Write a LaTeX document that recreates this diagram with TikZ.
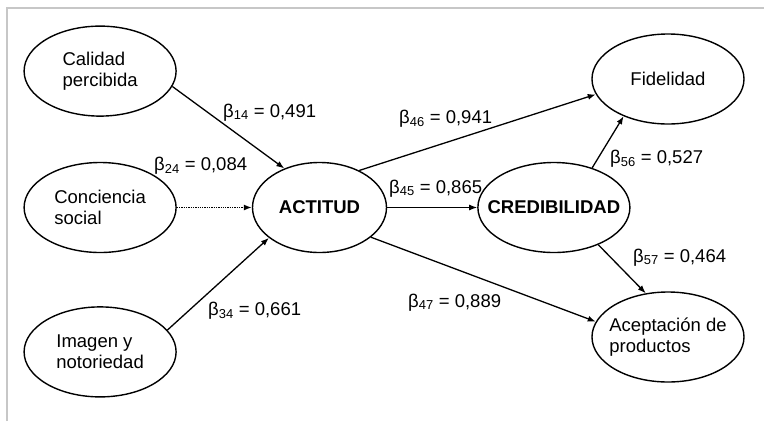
\documentclass[tikz,border=0pt]{standalone}
\usepackage{fontspec}
\setmainfont{Liberation Sans}
\usepackage{tikz}
\tikzstyle{factor} = [ellipse, draw, line width=1.4pt, inner sep=0pt,
    minimum width=152pt, minimum height=90pt, align=left,
    font=\fontsize{18.5}{21}\selectfont]
\tikzstyle{keyfactor} = [factor, font=\fontsize{18.5}{21}\selectfont\bfseries]
\tikzstyle{coef} = [anchor=base west, inner sep=0pt,
    font=\fontsize{18.5}{21}\selectfont]
\tikzstyle{path} = [line width=1.3pt, -{Latex[length=8pt,width=6pt]}]
\usetikzlibrary{arrows.meta}
\usetikzlibrary{positioning}
\usetikzlibrary{shapes.geometric}

\begin{document}
\begin{tikzpicture}[x=1pt,y=-1pt]
    \useasboundingbox (0,0) rectangle (764,421);
    \draw[line width=2pt, black!22] (7,421) -- (7,8) -- (764,8);

    \node[keyfactor, minimum width=134pt] (actitud) at (319.5,207.5) {ACTITUD};
    \node[factor, left=75pt of actitud] (conciencia) {Conciencia\\social};
    \node[factor, above=45pt of conciencia] (calidad) {Calidad\\percibida};
    \node[factor, below=53pt of conciencia] (imagen) {Imagen y\\notoriedad};

    \node[keyfactor, inner xsep=-16pt, right=90pt of actitud] (credibilidad) {CREDIBILIDAD};
    \node[factor] (fidelidad) at (668,79) {Fidelidad};
    \node[factor, inner xsep=-6pt] (aceptacion) at (668,337) {Aceptación de\\productos};

    \draw[path] (calidad.-12) -- (actitud.132);
    \draw[path, densely dotted] (conciencia) -- (actitud);
    \draw[path] (imagen.18) -- (actitud.211);
    \draw[path] (actitud.43) -- (fidelidad.192);
    \draw[path] (actitud) -- (credibilidad);
    \draw[path] (actitud.-30) -- (aceptacion.168);
    \draw[path] (credibilidad.46) -- (fidelidad.220);
    \draw[path] (credibilidad.-40) -- (aceptacion.117);

    \node[coef] (b14) at (223,117) {β\textsubscript{14} = 0,491};
    \node[coef] (b24) at (154,170) {β\textsubscript{24} = 0,084};
    \node[coef] (b34) at (208,315) {β\textsubscript{34} = 0,661};
    \node[coef] (b46) at (399,123) {β\textsubscript{46} = 0,941};
    \node[coef] (b45) at (389,193) {β\textsubscript{45} = 0,865};
    \node[coef] (b47) at (408,307) {β\textsubscript{47} = 0,889};
    \node[coef] (b56) at (610,163) {β\textsubscript{56} = 0,527};
    \node[coef] (b57) at (633,262) {β\textsubscript{57} = 0,464};
\end{tikzpicture}
\end{document}
